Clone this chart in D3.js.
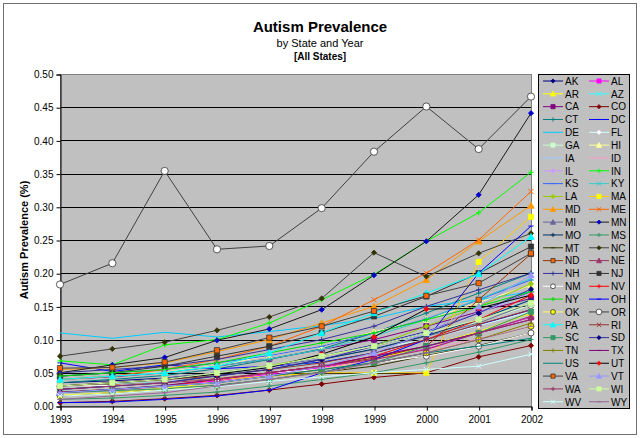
<!DOCTYPE html>
<html lang="en">
<head>
  <meta charset="UTF-8">
  <title>Autism Prevalence by State and Year</title>
  <script src="https://d3js.org/d3.v7.min.js"></script>
  <style>
    body { margin: 0; background: #fff; font-family: "Liberation Sans", Arial, sans-serif; }
    svg text { font-family: "Liberation Sans", Arial, sans-serif; fill: #000; }
  </style>
</head>
<body>
  <svg width="640" height="438"></svg>
  <script>
    // ---- data (prevalence in %) ----
    const years = [1993, 1994, 1995, 1996, 1997, 1998, 1999, 2000, 2001, 2002];
    const yTicks = [0, 0.05, 0.10, 0.15, 0.20, 0.25, 0.30, 0.35, 0.40, 0.45, 0.50];

    const states = ["AK","AL","AR","AZ","CA","CO","CT","DC","DE","FL","GA","HI","IA","ID",
      "IL","IN","KS","KY","LA","MA","MD","ME","MI","MN","MO","MS","MT","NC","ND","NE",
      "NH","NJ","NM","NV","NY","OH","OK","OR","PA","RI","SC","SD","TN","TX","US","UT",
      "VA","VT","WA","WI","WV","WY"];

    const prevalence = [
      [0.035,0.038,0.042,0.050,0.060,0.075,0.092,0.112,0.140,0.172], // AK
      [0.020,0.024,0.030,0.038,0.048,0.058,0.070,0.086,0.110,0.134], // AL
      [0.016,0.020,0.027,0.035,0.045,0.056,0.070,0.090,0.112,0.140], // AR
      [0.030,0.032,0.036,0.045,0.055,0.066,0.080,0.100,0.130,0.160], // AZ
      [0.040,0.044,0.050,0.060,0.071,0.085,0.100,0.120,0.142,0.162], // CA
      [0.005,0.007,0.011,0.016,0.024,0.033,0.043,0.050,0.074,0.091], // CO
      [0.035,0.040,0.046,0.056,0.070,0.086,0.110,0.140,0.170,0.200], // CT
      [0.065,0.052,0.062,0.056,0.060,0.066,0.080,0.100,0.122,0.145], // DC
      [0.110,0.102,0.111,0.104,0.112,0.121,0.132,0.150,0.160,0.172], // DE
      [0.030,0.035,0.041,0.050,0.060,0.071,0.086,0.100,0.121,0.142], // FL
      [0.025,0.030,0.035,0.045,0.055,0.070,0.086,0.105,0.126,0.152], // GA
      [0.040,0.045,0.051,0.061,0.076,0.090,0.112,0.130,0.156,0.182], // HI
      [0.030,0.034,0.040,0.050,0.061,0.075,0.091,0.111,0.140,0.170], // IA
      [0.020,0.025,0.030,0.036,0.045,0.056,0.070,0.085,0.101,0.120], // ID
      [0.025,0.030,0.036,0.045,0.056,0.070,0.090,0.110,0.141,0.171], // IL
      [0.068,0.062,0.092,0.100,0.125,0.160,0.198,0.248,0.291,0.352], // IN
      [0.045,0.050,0.055,0.065,0.076,0.090,0.110,0.131,0.160,0.190], // KS
      [0.040,0.045,0.050,0.060,0.071,0.085,0.105,0.130,0.161,0.192], // KY
      [0.030,0.035,0.040,0.050,0.061,0.075,0.090,0.120,0.150,0.184], // LA
      [0.021,0.025,0.030,0.040,0.045,0.050,0.050,0.050,0.217,0.285], // MA
      [0.055,0.058,0.065,0.082,0.100,0.125,0.150,0.190,0.248,0.302], // MD
      [0.040,0.045,0.055,0.070,0.090,0.120,0.160,0.200,0.250,0.323], // ME
      [0.030,0.035,0.041,0.050,0.060,0.071,0.085,0.105,0.125,0.155], // MI
      [0.050,0.062,0.073,0.099,0.116,0.145,0.197,0.248,0.318,0.441], // MN
      [0.025,0.030,0.035,0.046,0.055,0.070,0.086,0.106,0.130,0.160], // MO
      [0.010,0.012,0.016,0.021,0.030,0.040,0.050,0.065,0.081,0.100], // MS
      [0.015,0.020,0.025,0.031,0.040,0.051,0.060,0.076,0.091,0.110], // MT
      [0.075,0.086,0.096,0.114,0.134,0.162,0.231,0.195,0.230,0.260], // NC
      [0.030,0.032,0.035,0.041,0.050,0.060,0.072,0.090,0.160,0.229], // ND
      [0.020,0.025,0.030,0.035,0.045,0.060,0.075,0.090,0.110,0.135], // NE
      [0.050,0.055,0.060,0.070,0.085,0.100,0.120,0.150,0.175,0.200], // NH
      [0.045,0.050,0.060,0.075,0.090,0.110,0.135,0.165,0.200,0.240], // NJ
      [0.030,0.031,0.035,0.040,0.050,0.055,0.065,0.075,0.090,0.110], // NM
      [0.020,0.025,0.030,0.040,0.050,0.060,0.075,0.100,0.130,0.167], // NV
      [0.045,0.050,0.055,0.065,0.080,0.095,0.110,0.130,0.150,0.172], // NY
      [0.005,0.006,0.010,0.015,0.024,0.050,0.070,0.100,0.200,0.271], // OH
      [0.016,0.020,0.025,0.030,0.040,0.050,0.065,0.080,0.100,0.120], // OK
      [0.183,0.215,0.354,0.236,0.241,0.298,0.383,0.451,0.387,0.466], // OR
      [0.040,0.045,0.050,0.060,0.080,0.110,0.140,0.170,0.199,0.255], // PA
      [0.030,0.035,0.040,0.045,0.055,0.065,0.080,0.100,0.123,0.145], // RI
      [0.020,0.023,0.026,0.031,0.040,0.051,0.065,0.090,0.110,0.142], // SC
      [0.025,0.030,0.035,0.045,0.055,0.070,0.090,0.110,0.140,0.176], // SD
      [0.020,0.025,0.030,0.035,0.045,0.055,0.065,0.080,0.100,0.125], // TN
      [0.021,0.025,0.031,0.040,0.050,0.060,0.075,0.090,0.110,0.130], // TX
      [0.020,0.025,0.030,0.035,0.045,0.055,0.065,0.080,0.090,0.102], // US
      [0.030,0.035,0.040,0.048,0.058,0.078,0.104,0.146,0.147,0.167], // UT
      [0.057,0.058,0.066,0.084,0.103,0.120,0.143,0.166,0.185,0.230], // VA
      [0.020,0.025,0.030,0.035,0.045,0.060,0.080,0.110,0.150,0.197], // VT
      [0.025,0.030,0.035,0.040,0.050,0.060,0.070,0.085,0.110,0.130], // WA
      [0.030,0.035,0.040,0.050,0.060,0.075,0.090,0.110,0.130,0.155], // WI
      [0.015,0.018,0.024,0.029,0.037,0.044,0.050,0.055,0.060,0.078], // WV
      [0.010,0.015,0.020,0.030,0.040,0.050,0.065,0.080,0.100,0.120]  // WY
    ];

    // ---- series styles (same order as states) ----
    const lineColors = ["#000080","#FF00FF","#FFFF00","#33FFFF","#800080","#800000","#008080","#0000FF",
      "#00CCFF","#CCFFFF","#CCFFCC","#FFFF99","#99CCFF","#FF99CC","#CC99FF","#00FF00","#3366FF","#33CCCC",
      "#99CC00","#FFCC00","#FF9900","#FF6600","#666699","#1A1A1A","#003366","#339966","#333300","#404040",
      "#993300","#993366","#333399","#333333","#FFFFFF","#FF0000","#00E000","#0000FF","#FFFF66","#404040",
      "#00FFFF","#993333","#339966","#333399","#808000","#800080","#008080","#000000","#404040","#9999FF",
      "#993366","#CCFF99","#CCFFFF","#996699"];
    const markerShapes = ["diamond","square","triangle","x","square","diamond","plus","dash",
      "none","diamond","square","triangle","none","none","diamond","plus","dash","x",
      "diamond","square","triangle","x","triangle","diamond","plus","plus","dash","diamond",
      "square","triangle","plus","square","circle","plus","plus","dash","circle","circle",
      "triangle","x","square","diamond","plus","dash","none","diamond","square","triangle",
      "plus","square","x","dash"];
    const markerFills = ["#000080","#FF00FF","#FFFF00","#33FFFF","#800080","#800000","#008080","#0000FF",
      "none","#FFFFFF","#CCFFCC","#FFFF99","none","none","#CC99FF","#00FF00","#3366FF","#33CCCC",
      "#99CC00","#FFFF00","#FF9900","#FF6600","#666699","#0000CC","#003366","#339966","#333300","#333300",
      "#FF6600","#993366","#333399","#333333","#FFFFFF","#FF0000","#00E000","#0000FF","#FFFF00","#FFFFFF",
      "#00FFFF","#993333","#339966","#000080","#808000","#800080","none","#FF0000","#FF6600","#9999FF",
      "#993366","#CCFF99","#FFFFFF","#996699"];

    const svg = d3.select("svg");
    const plot = { left: 60, right: 531, top: 74, bottom: 406 };

    const x = d3.scaleLinear().domain([1993, 2002]).range([plot.left, plot.right]);
    const y = d3.scaleLinear().domain([0, 0.5]).range([plot.bottom, plot.top]);

    function markerPath(shape, s) {
      switch (shape) {
        case "diamond": return `M0,${-s}L${s},0L0,${s}L${-s},0Z`;
        case "square": return `M${-s},${-s}h${2*s}v${2*s}h${-2*s}Z`;
        case "triangle": return `M0,${-s}L${s},${s*0.85}L${-s},${s*0.85}Z`;
        case "circle": return `M${-s},0a${s},${s} 0 1,0 ${2*s},0a${s},${s} 0 1,0 ${-2*s},0Z`;
        case "plus": return `M${-s},0H${s}M0,${-s}V${s}`;
        case "x": return `M${-s},${-s}L${s},${s}M${-s},${s}L${s},${-s}`;
        case "dash": return `M${-s},0H${s}`;
        default: return null;
      }
    }
    const strokeOnly = sh => sh === "plus" || sh === "x" || sh === "dash";
    const markerSize = sh => sh === "circle" ? 3 : sh === "triangle" ? 3.2 : 2.6;

    function drawMarker(g, i, cx, cy, scale) {
      const sh = markerShapes[i];
      const d = markerPath(sh, (i === 37 ? 3.6 : markerSize(sh)) * scale);
      if (!d) return;
      const open = strokeOnly(sh);
      g.append("path")
        .attr("d", d)
        .attr("transform", `translate(${cx},${cy})`)
        .attr("fill", open ? "none" : markerFills[i])
        .attr("stroke", open ? lineColors[i] : (sh === "circle" || sh === "square" && (i === 28 || i === 46) ? "#333333" : markerFills[i]))
        .attr("stroke-width", open ? 1 : 0.8);
    }

    // chart border
    svg.append("rect")
      .attr("x", 3.5).attr("y", 3.5).attr("width", 633).attr("height", 431)
      .attr("fill", "#fff").attr("stroke", "#707070");

    // titles
    svg.append("text").attr("x", 320).attr("y", 32).attr("text-anchor", "middle")
      .attr("font-size", 15).attr("font-weight", "bold").text("Autism Prevalence");
    svg.append("text").attr("x", 320).attr("y", 47).attr("text-anchor", "middle")
      .attr("font-size", 11).text("by State and Year");
    svg.append("text").attr("x", 320).attr("y", 60).attr("text-anchor", "middle")
      .attr("font-size", 10).attr("font-weight", "bold").text("[All States]");

    // plot area
    svg.append("rect")
      .attr("x", plot.left).attr("y", plot.top)
      .attr("width", plot.right - plot.left).attr("height", plot.bottom - plot.top)
      .attr("fill", "#C0C0C0");

    svg.append("g")
      .selectAll("line")
      .data(yTicks)
      .join("line")
      .attr("x1", plot.left).attr("x2", plot.right)
      .attr("y1", d => Math.round(y(d)) + 0.5).attr("y2", d => Math.round(y(d)) + 0.5)
      .attr("stroke", "#000").attr("stroke-width", 1);

    svg.append("rect")
      .attr("x", plot.left + 0.5).attr("y", plot.top + 0.5)
      .attr("width", plot.right - plot.left).attr("height", plot.bottom - plot.top)
      .attr("fill", "none").attr("stroke", "#808080");

    // axes
    const yAxis = svg.append("g")
      .attr("transform", `translate(${plot.left + 0.5},0.5)`)
      .call(d3.axisLeft(y).tickValues(yTicks).tickFormat(d3.format(".2f")).tickSizeOuter(0).tickSize(4).tickPadding(3));
    const xAxis = svg.append("g")
      .attr("transform", `translate(0.5,${plot.bottom + 0.5})`)
      .call(d3.axisBottom(x).tickValues(years).tickFormat(d3.format("d")).tickSizeOuter(0).tickSize(4).tickPadding(5));
    [yAxis, xAxis].forEach(a => {
      a.select(".domain").attr("stroke", "#000");
      a.selectAll(".tick line").attr("stroke", "#000");
      a.selectAll("text").attr("font-size", 10).attr("font-family", "'Liberation Sans', Arial, sans-serif");
    });

    svg.append("text")
      .attr("transform", `translate(28,${(plot.top + plot.bottom) / 2}) rotate(-90)`)
      .attr("text-anchor", "middle").attr("font-size", 11).attr("font-weight", "bold")
      .text("Autism Prevalence (%)");

    // series
    const line = d3.line().x((d, j) => x(years[j])).y(d => y(d));
    const series = svg.append("g");
    prevalence.forEach((vals, i) => {
      const g = series.append("g");
      g.append("path")
        .attr("d", line(vals))
        .attr("fill", "none")
        .attr("stroke", lineColors[i])
        .attr("stroke-width", 1);
      vals.forEach((v, j) => drawMarker(g, i, x(years[j]), y(v), 1));
    });

    // legend
    const lg = { x: 538, y: 74, w: 91, h: 334, row: 12.83 };
    svg.append("rect")
      .attr("x", lg.x + 0.5).attr("y", lg.y + 0.5).attr("width", lg.w).attr("height", lg.h)
      .attr("fill", "#C0C0C0").attr("stroke", "#000");
    const legend = svg.append("g");
    states.forEach((st, i) => {
      const col = i % 2, row = Math.floor(i / 2);
      const lx = lg.x + 5 + col * 46, ly = lg.y + 7 + row * lg.row;
      const g = legend.append("g");
      g.append("line")
        .attr("x1", lx).attr("x2", lx + 20).attr("y1", ly).attr("y2", ly)
        .attr("stroke", lineColors[i]).attr("stroke-width", 1);
      drawMarker(g, i, lx + 10, ly, 0.8);
      g.append("text")
        .attr("x", lx + 22).attr("y", ly + 3.8)
        .attr("font-size", 10).text(st);
    });
  </script>
</body>
</html>
